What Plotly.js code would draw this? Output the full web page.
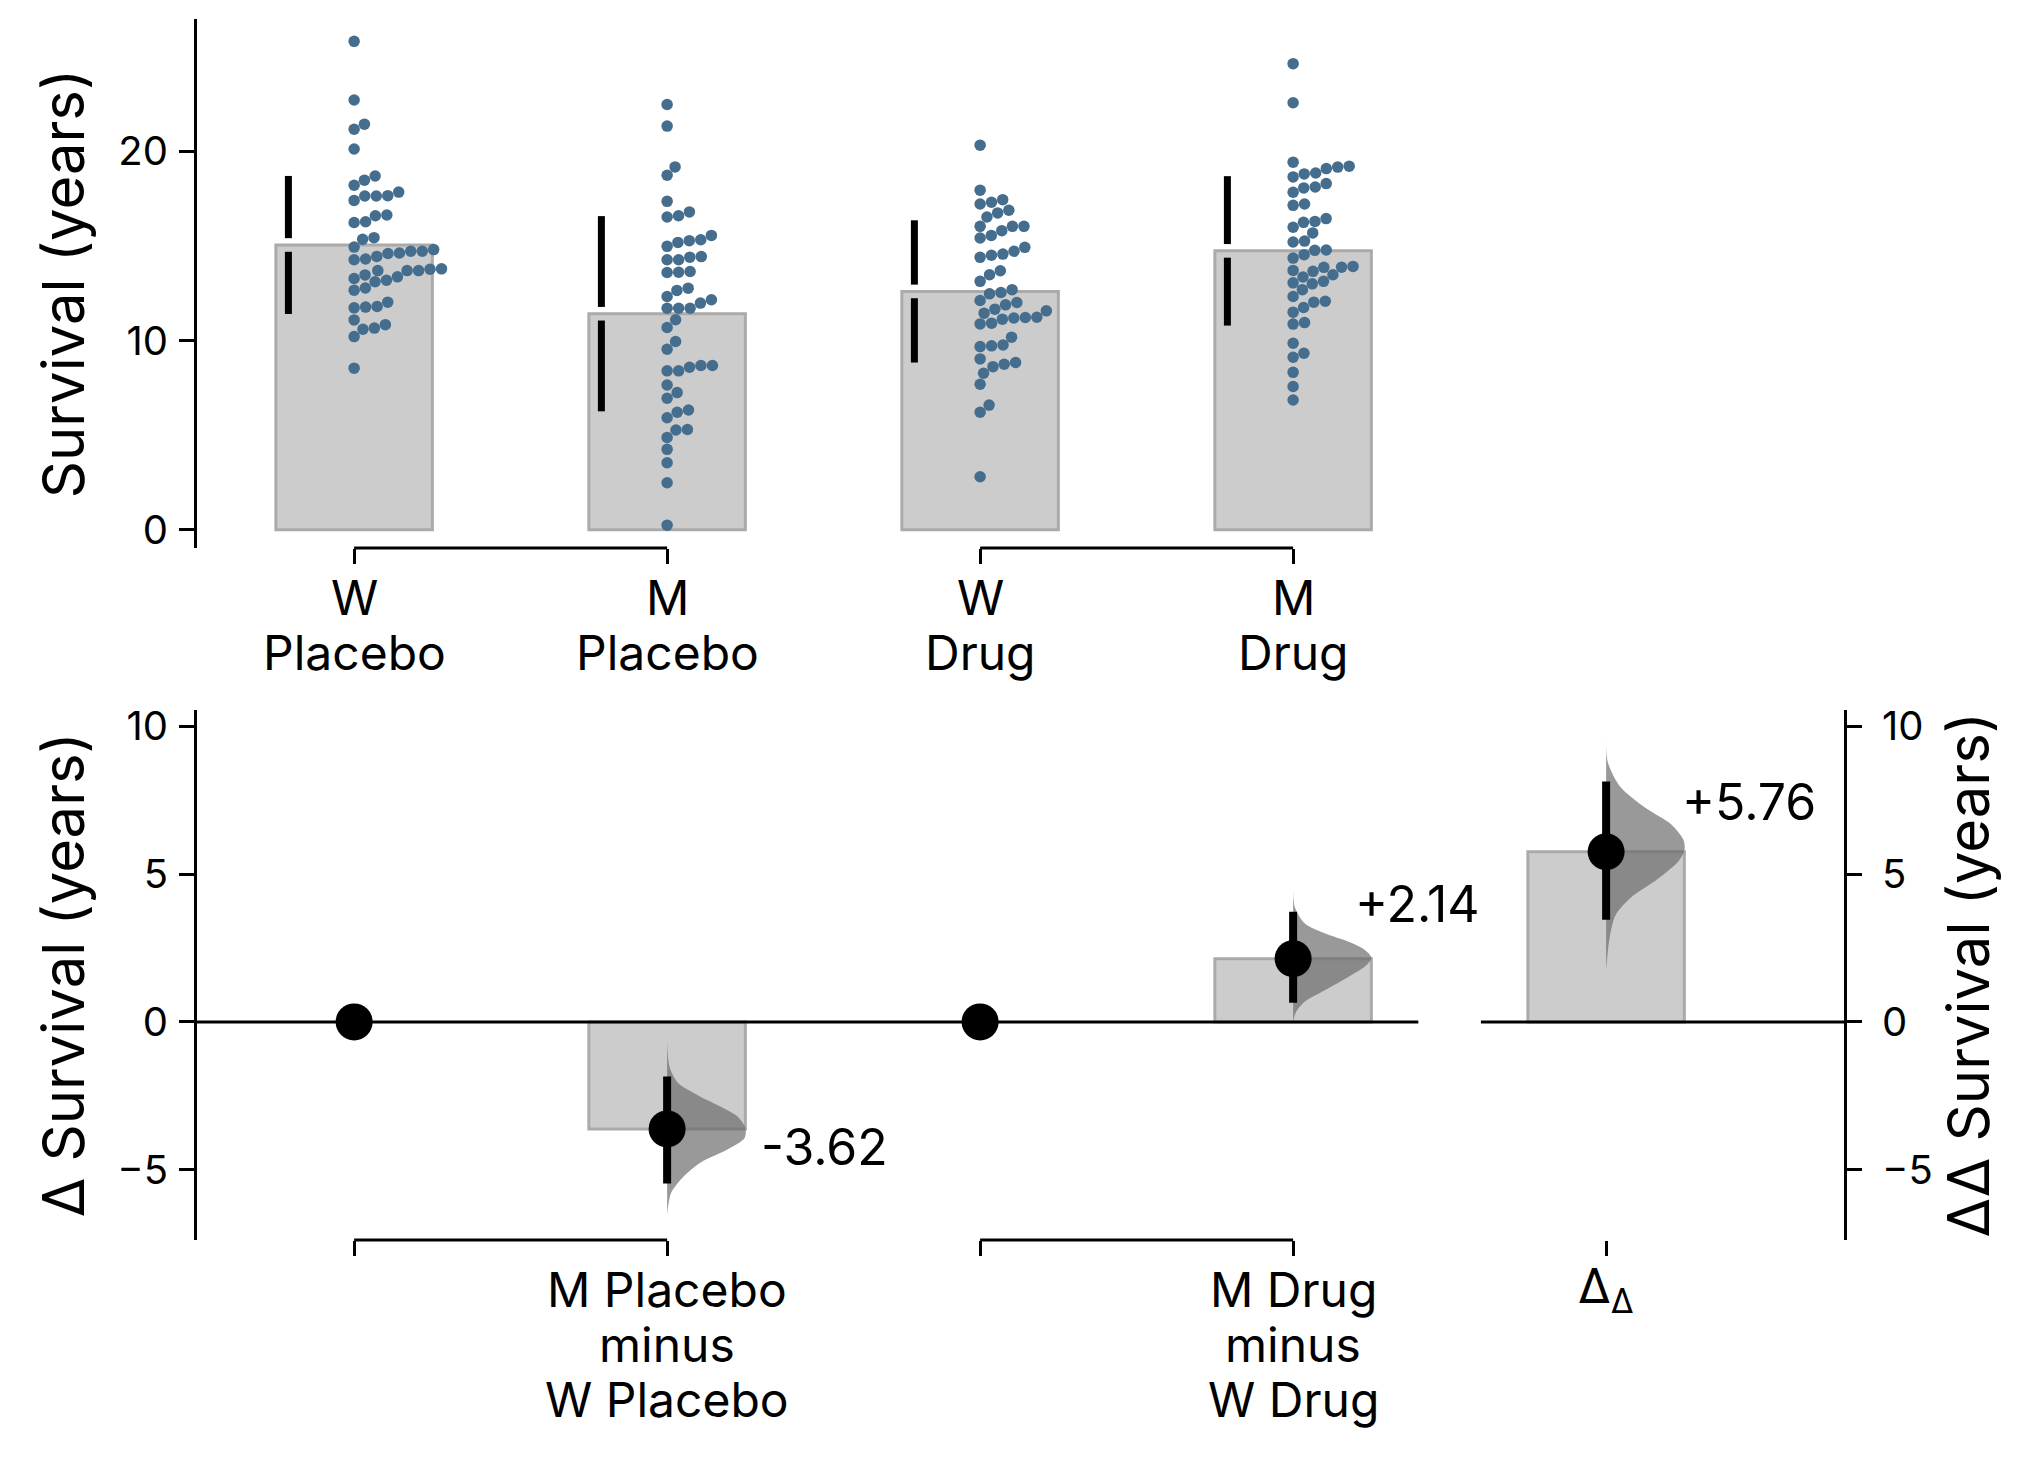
<!DOCTYPE html>
<html><head><meta charset="utf-8">
<script src="https://cdn.plot.ly/plotly-3.0.1.min.js"></script>
<style>html,body{margin:0;padding:0;background:#fff}</style>
</head><body><div id="chart" style="width:2035px;height:1461px"></div>
<script>
// ---------------- data ----------------
const groupSex = ['W', 'M', 'W', 'M'];
const groupTreatment = ['Placebo', 'Placebo', 'Drug', 'Drug'];

const survWPlacebo = [25.82, 22.72, 21.44, 21.17, 20.13, 18.70, 18.48, 18.21, 17.41, 17.64, 17.64, 17.66, 17.85,
  16.24, 16.28, 16.60, 16.64, 15.35, 15.44, 14.27, 14.72, 14.31, 14.45, 14.60, 14.63, 14.72, 14.81, 14.94,
  13.47, 13.70, 12.66, 12.78, 13.11, 13.19, 13.28, 13.37, 13.70, 13.70, 13.77, 13.79, 11.73, 11.77, 11.80, 12.03,
  11.09, 10.60, 10.66, 10.84, 10.21, 8.54];
const survMPlacebo = [22.48, 21.34, 19.18, 18.74, 17.36, 16.53, 16.60, 16.80, 15.19, 14.98, 15.28, 15.33, 15.56,
  14.41, 14.44, 14.27, 14.27, 13.60, 13.61, 13.65, 12.33, 12.65, 12.77, 11.71, 11.71, 11.71, 11.98, 12.16,
  11.10, 10.69, 9.95, 9.54, 8.40, 8.40, 8.59, 8.68, 8.68, 6.95, 7.25, 7.65, 5.92, 6.21, 6.33, 4.88, 5.27, 5.30,
  4.25, 3.54, 2.48, 0.24];
const survWDrug = [20.33, 17.95, 17.45, 16.53, 16.75, 16.89, 17.22, 17.31, 15.42, 15.56, 15.81, 16.04, 16.04, 16.04,
  14.40, 14.51, 14.57, 14.72, 14.93, 13.48, 13.69, 13.13, 12.47, 12.69, 11.66, 11.89, 12.01, 12.12, 12.54,
  10.88, 10.92, 11.13, 11.19, 11.22, 11.23, 11.45, 11.57, 9.68, 9.72, 9.77, 10.18, 9.03, 8.27, 8.62, 8.75, 8.84,
  7.69, 6.21, 6.59, 2.80];
const survMDrug = [24.64, 22.57, 19.17, 19.43, 18.81, 18.86, 19.09, 19.22, 18.65, 18.07, 17.84, 18.12, 18.30,
  17.15, 17.22, 16.25, 15.69, 15.99, 16.30, 16.45, 15.21, 15.26, 14.36, 14.77, 14.79, 14.54, 13.48, 13.87, 13.88,
  13.92, 13.36, 13.66, 13.71, 12.69, 13.00, 13.05, 13.13, 11.75, 12.03, 12.08, 12.33, 11.50, 10.87, 10.95,
  9.12, 9.33, 9.86, 8.32, 7.57, 6.86];
const groupSD = [3.65, 5.16, 3.76, 3.95];

const contrastLines = [['M Placebo', 'minus', 'W Placebo'], ['M Drug', 'minus', 'W Drug']];
const deltaDeltaLabel = 'Δ<sub>Δ</sub>';
const deltas = [-3.62, 2.14];
const deltaCILow = [-5.47, 0.65];
const deltaCIHigh = [-1.85, 3.73];
const deltaDelta = 5.76;
const deltaDeltaCI = [3.46, 8.14];

// bootstrap distribution outlines (level, relative density)
const violin1Y = [-0.67, -1.51, -2.07, -2.52, -2.86, -3.20, -3.59, -3.93, -4.32, -4.77, -5.23, -5.79, -6.52];
const violin1D = [0, 0.03, 0.14, 0.42, 0.68, 0.90, 1.0, 0.99, 0.77, 0.42, 0.21, 0.05, 0];
const violin2Y = [4.68, 3.90, 3.33, 2.99, 2.71, 2.43, 2.18, 1.93, 1.53, 1.08, 0.69, 0.35, 0.01];
const violin2D = [0, 0.02, 0.15, 0.41, 0.71, 0.92, 1.0, 0.94, 0.71, 0.41, 0.15, 0.04, 0];
const violin3Y = [9.77, 8.80, 7.96, 7.23, 6.69, 6.15, 5.79, 5.42, 4.82, 4.22, 3.61, 2.77, 1.74];
const violin3D = [0, 0.02, 0.18, 0.51, 0.83, 0.99, 1.0, 0.92, 0.65, 0.32, 0.12, 0.04, 0];

// ---------------- layout constants ----------------
const W = 2035, H = 1461;
const M = {l: 197, r: 191, t: 19, b: 221};
const xRange = [-0.502, 4.760];
const yTopRange = [-0.97, 27.0];
const yBotRange = [-7.38, 10.57];
const topDomain = [0.5667, 1];
const botDomain = [0, 0.4344];
const FONT = 'Inter, "Noto Sans", sans-serif';
const dotColor = '#456d8e';
const labelSize = 48;

const plotW = W - M.l - M.r, plotH = H - M.t - M.b;
const xPx = plotW / (xRange[1] - xRange[0]);
const topDomPx = plotH * (topDomain[1] - topDomain[0]);
const botDomPx = plotH * (botDomain[1] - botDomain[0]);
const yTopPx = topDomPx / (yTopRange[1] - yTopRange[0]);

// one-sided beeswarm (offsets in pixels to the right)
function swarm(vals, d) {
  const idx = vals.map((v, i) => i).sort((a, b) => vals[a] - vals[b]);
  const placed = [];
  const off = new Array(vals.length);
  for (const i of idx) {
    const y = vals[i] * yTopPx;
    const near = placed.filter(p => Math.abs(p.y - y) < d);
    const cands = [0];
    near.forEach(p => cands.push(p.x + Math.sqrt(d * d - (p.y - y) ** 2)));
    cands.sort((a, b) => a - b);
    let chosen = cands[cands.length - 1];
    for (const c of cands) {
      if (near.every(p => (p.x - c) ** 2 + (p.y - y) ** 2 >= d * d - 1e-6)) { chosen = c; break; }
    }
    placed.push({x: chosen, y});
    off[i] = chosen;
  }
  return off;
}
const mean = a => a.reduce((s, v) => s + v, 0) / a.length;

const groups = [survWPlacebo, survMPlacebo, survWDrug, survMDrug];
const groupMeans = groups.map(mean);
const traces = [];

// top panel bars (group means)
traces.push({
  type: 'bar', x: [0, 1, 2, 3], y: groupMeans, width: 0.5, xaxis: 'x', yaxis: 'y',
  marker: {color: '#cccccc', line: {color: '#aaaaaa', width: 3}}, hoverinfo: 'skip', showlegend: false
});
// swarms
groups.forEach((g, gi) => {
  const off = swarm(g, 11.5);
  traces.push({
    type: 'scatter', mode: 'markers', xaxis: 'x', yaxis: 'y',
    x: g.map((v, i) => gi + off[i] / xPx), y: g,
    marker: {color: dotColor, size: 11.5, line: {width: 0}}, showlegend: false, hoverinfo: 'skip'
  });
});
// mean +/- SD gapped lines
const gap = 0.36, sdOff = -0.21;
groups.forEach((g, gi) => {
  const m = groupMeans[gi], s = groupSD[gi], x = gi + sdOff;
  traces.push({
    type: 'scatter', mode: 'lines', xaxis: 'x', yaxis: 'y',
    x: [x, x, null, x, x], y: [m + s, m + gap, null, m - gap, m - s],
    line: {color: 'black', width: 7}, showlegend: false, hoverinfo: 'skip'
  });
});

// bottom panel: contrast bars
traces.push({
  type: 'bar', x: [1, 3], y: deltas, width: 0.5, xaxis: 'x2', yaxis: 'y2',
  marker: {color: '#cccccc', line: {color: '#aaaaaa', width: 3}}, hoverinfo: 'skip', showlegend: false
});
traces.push({
  type: 'bar', x: [4], y: [deltaDelta], width: 0.5, xaxis: 'x2', yaxis: 'y3',
  marker: {color: '#cccccc', line: {color: '#aaaaaa', width: 3}}, hoverinfo: 'skip', showlegend: false
});
// half violins
const violinW = 0.25;
[[1, violin1Y, violin1D, 'y2'], [3, violin2Y, violin2D, 'y2'], [4, violin3Y, violin3D, 'y3']].forEach(([pos, ys, ds, ya]) => {
  traces.push({
    type: 'scatter', mode: 'lines', xaxis: 'x2', yaxis: ya,
    x: ds.map(d => pos + violinW * d), y: ys, fill: 'toself',
    fillcolor: 'rgba(105,105,105,0.68)', line: {width: 0, shape: 'spline', smoothing: 0.8},
    showlegend: false, hoverinfo: 'skip'
  });
});
// CIs
traces.push({
  type: 'scatter', mode: 'lines', xaxis: 'x2', yaxis: 'y2',
  x: [1, 1, null, 3, 3], y: [deltaCILow[0], deltaCIHigh[0], null, deltaCILow[1], deltaCIHigh[1]],
  line: {color: 'black', width: 8}, showlegend: false, hoverinfo: 'skip'
});
traces.push({
  type: 'scatter', mode: 'lines', xaxis: 'x2', yaxis: 'y3',
  x: [4, 4], y: deltaDeltaCI, line: {color: 'black', width: 8}, showlegend: false, hoverinfo: 'skip'
});
// reference and effect dots
traces.push({
  type: 'scatter', mode: 'markers', xaxis: 'x2', yaxis: 'y2',
  x: [0, 1, 2, 3], y: [0, deltas[0], 0, deltas[1]],
  marker: {color: 'black', size: 37, line: {width: 0}}, showlegend: false, hoverinfo: 'skip'
});
traces.push({
  type: 'scatter', mode: 'markers', xaxis: 'x2', yaxis: 'y3',
  x: [4], y: [deltaDelta],
  marker: {color: 'black', size: 37, line: {width: 0}}, showlegend: false, hoverinfo: 'skip'
});

const fmt = v => (v > 0 ? '+' : '') + v.toFixed(2);

// category labels (line by line, to match the tighter line spacing)
const lineOffsets = [49.5, 104.5, 159.5]; // px below the axis
const annotations = [];
groupSex.forEach((s, i) => {
  [s, groupTreatment[i]].forEach((t, li) => annotations.push({
    xref: 'x', yref: 'y domain', x: i, y: -lineOffsets[li] / topDomPx, text: t, showarrow: false,
    xanchor: 'center', yanchor: 'middle', font: {size: labelSize}
  }));
});
contrastLines.forEach((lines, ci) => {
  lines.forEach((t, li) => annotations.push({
    xref: 'x2', yref: 'y2 domain', x: 1 + 2 * ci, y: -lineOffsets[li] / botDomPx, text: t, showarrow: false,
    xanchor: 'center', yanchor: 'middle', font: {size: labelSize}
  }));
});
annotations.push({
  xref: 'x2', yref: 'y2 domain', x: 4, y: -(lineOffsets[0] - 1) / botDomPx, text: deltaDeltaLabel, showarrow: false,
  xanchor: 'center', yanchor: 'middle', font: {size: labelSize}
});
// effect size labels
annotations.push(
  {xref: 'x2', yref: 'y2', x: 1 + 0.292, y: -4.22, text: fmt(deltas[0]), showarrow: false,
   xanchor: 'left', yanchor: 'middle', font: {size: 50}},
  {xref: 'x2', yref: 'y2', x: 3 + 0.192, y: 4.00, text: fmt(deltas[1]), showarrow: false,
   xanchor: 'left', yanchor: 'middle', font: {size: 50}},
  {xref: 'x2', yref: 'y3', x: 4 + 0.237, y: 7.43, text: fmt(deltaDelta), showarrow: false,
   xanchor: 'left', yanchor: 'middle', font: {size: 50}}
);

const tickCommon = {ticks: 'outside', ticklen: 15, tickwidth: 3, tickcolor: 'black'};
const layout = {
  width: W, height: H, margin: M, paper_bgcolor: 'white', plot_bgcolor: 'rgba(0,0,0,0)',
  font: {family: FONT, color: 'black'}, showlegend: false, barmode: 'overlay',
  xaxis: Object.assign({
    domain: [0, 1], range: xRange, anchor: 'y', showgrid: false, zeroline: false, showline: false,
    tickvals: [0, 1, 2, 3], showticklabels: false
  }, tickCommon),
  yaxis: Object.assign({
    domain: topDomain, range: yTopRange, anchor: 'x', showgrid: false, zeroline: false,
    showline: true, linewidth: 3, linecolor: 'black', tickvals: [0, 10, 20],
    tickfont: {size: 40}, ticklabelstandoff: 3,
    title: {text: 'Survival (years)', font: {size: 58}, standoff: 16}
  }, tickCommon),
  xaxis2: Object.assign({
    domain: [0, 1], range: xRange, anchor: 'y2', showgrid: false, zeroline: false, showline: false,
    tickvals: [0, 1, 2, 3, 4], showticklabels: false
  }, tickCommon),
  yaxis2: Object.assign({
    domain: botDomain, range: yBotRange, anchor: 'x2', showgrid: false, zeroline: false,
    showline: true, linewidth: 3, linecolor: 'black', tickvals: [-5, 0, 5, 10],
    tickfont: {size: 40}, ticklabelstandoff: 3,
    title: {text: 'Δ Survival (years)', font: {size: 58}, standoff: 14}
  }, tickCommon),
  yaxis3: Object.assign({
    overlaying: 'y2', side: 'right', anchor: 'x2', range: yBotRange, showgrid: false, zeroline: false,
    showline: true, linewidth: 3, linecolor: 'black', tickvals: [-5, 0, 5, 10],
    tickfont: {size: 40}, ticklabelstandoff: 12,
    title: {text: 'ΔΔ Survival (years)', font: {size: 58}, standoff: 14}
  }, tickCommon),
  shapes: [
    // group brackets
    {type: 'line', xref: 'x', yref: 'y domain', x0: 0, x1: 1, y0: 0, y1: 0, line: {color: 'black', width: 3}},
    {type: 'line', xref: 'x', yref: 'y domain', x0: 2, x1: 3, y0: 0, y1: 0, line: {color: 'black', width: 3}},
    {type: 'line', xref: 'x2', yref: 'y2 domain', x0: 0, x1: 1, y0: 0, y1: 0, line: {color: 'black', width: 3}},
    {type: 'line', xref: 'x2', yref: 'y2 domain', x0: 2, x1: 3, y0: 0, y1: 0, line: {color: 'black', width: 3}},
    // zero lines
    {type: 'line', xref: 'x2', yref: 'y2', x0: xRange[0], x1: 3.4, y0: 0, y1: 0, line: {color: 'black', width: 3}, layer: 'above'},
    {type: 'line', xref: 'x2', yref: 'y2', x0: 3.6, x1: xRange[1], y0: 0, y1: 0, line: {color: 'black', width: 3}, layer: 'above'}
  ],
  annotations: annotations
};

Plotly.newPlot('chart', traces, layout, {staticPlot: true, displayModeBar: false});
</script>
</body></html>
